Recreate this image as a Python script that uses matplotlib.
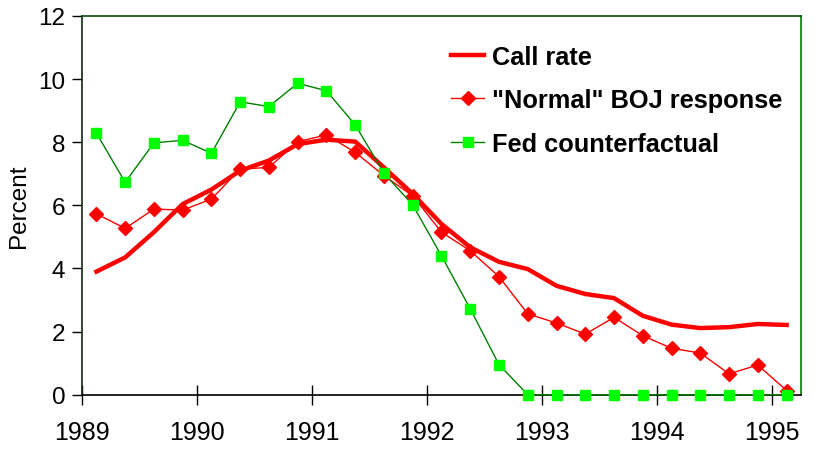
import numpy as np
import matplotlib
matplotlib.use("Agg")
import matplotlib.pyplot as plt

# quarterly observations, 1989Q1 .. 1995Q1
years = ["1989", "1990", "1991", "1992", "1993", "1994", "1995"]

call_rate = [3.90, 4.35, 5.15, 6.04, 6.50, 7.10, 7.42, 7.94, 8.08, 8.02,
             7.20, 6.36, 5.41, 4.67, 4.21, 3.98, 3.45, 3.19, 3.06, 2.50,
             2.22, 2.11, 2.14, 2.24, 2.21]

boj_normal = [5.73, 5.27, 5.88, 5.85, 6.20, 7.15, 7.20, 8.02, 8.23, 7.68,
              6.94, 6.30, 5.15, 4.56, 3.74, 2.56, 2.27, 1.92, 2.45, 1.87,
              1.47, 1.32, 0.66, 0.94, 0.13]

fed_cf = [8.29, 6.73, 7.98, 8.06, 7.65, 9.28, 9.13, 9.87, 9.63, 8.55,
          7.02, 6.01, 4.40, 2.72, 0.95, 0, 0, 0, 0, 0,
          0, 0, 0, 0, 0]

plt.rcParams['font.family'] = ['Liberation Sans', 'DejaVu Sans']

fig = plt.figure(figsize=(8.21, 4.52), dpi=100)
ax = fig.add_axes([0.0999, 0.1246, 0.8757, 0.8378])

x = np.arange(len(call_rate))
ax.plot(x, call_rate, color='#ff0000', lw=3.2, label='Call rate', zorder=3)
ax.plot(x, boj_normal, color='#ff0000', lw=1.0, marker='D', ms=7,
        label='"Normal" BOJ response', zorder=4, clip_on=False)
ax.plot(x, fed_cf, color='#008000', lw=1.0, marker='s', ms=7.5,
        mfc='#00ff00', mec='#00ff00', label='Fed counterfactual',
        zorder=5, clip_on=False)

ax.set_xlim(-0.5, len(call_rate) - 0.5)
ax.set_ylim(0, 12)
ax.set_yticks(np.arange(0, 13, 2))
ax.set_xticks(np.arange(-0.5, len(call_rate), 4))
ax.set_xticklabels(years)

ax.tick_params(axis='y', direction='out', length=7, width=1, labelsize=17.5, pad=5)
ax.tick_params(axis='x', direction='inout', length=15, width=1, labelsize=18, pad=11)
ax.set_ylabel('Percent', fontsize=17.5, labelpad=6)

ax.spines['left'].set_color('#0b2a0b')
ax.spines['top'].set_color('#0b4a0b')
ax.spines['right'].set_color('#008000')
ax.spines['bottom'].set_color('black')
for s in ax.spines.values():
    s.set_linewidth(1.2)

leg = ax.legend(loc='upper left', bbox_to_anchor=(0.482, 0.985), frameon=False,
                prop={'weight': 'bold', 'size': 18.3}, handlelength=1.3,
                handletextpad=0.3, labelspacing=0.78)

fig.savefig('out.png', dpi=100)
